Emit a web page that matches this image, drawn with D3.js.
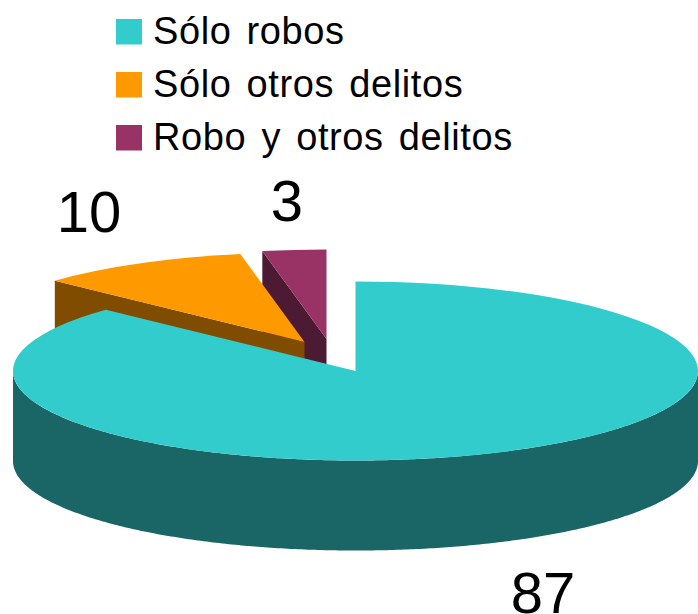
<!DOCTYPE html>
<html>
<head>
<meta charset="utf-8">
<script src="https://cdn.jsdelivr.net/npm/d3@7"></script>
<style>
  body { margin: 0; background: #fff; }
  svg { display: block; }
  text { font-family: "Liberation Sans", Arial, sans-serif; fill: #000; }
</style>
</head>
<body>
<div id="chart"></div>
<script>
// data
var categories = ["Sólo robos", "Sólo otros delitos", "Robo y otros delitos"];
var values = [87, 10, 3];

var topColors = ["#33cccc", "#ff9900", "#993366"];
var sideColors = ["#1a6666", "#804c00", "#4d1a33"];

var svgWidth = 698;
var svgHeight = 614;

var svg = d3.select("#chart")
  .append("svg")
  .attr("width", svgWidth)
  .attr("height", svgHeight);

// pie geometry (tilted ellipse + extrusion)
var cx = 355.5;
var cy = 371;
var rx = 342.5;
var ry = 89.5;
var depth = 90;

// how far each slice is pulled out of the centre, in pixels
var explode = [[0, 0], [-51, -29], [-29, -32]];
// where each value label sits
var labelPos = [[543, 613], [89, 232], [287, 221]];

var pieData = d3.pie().sort(null)(values);

var arc = d3.arc().innerRadius(0).outerRadius(rx);
var line = d3.line();

function onRim(angle, dx, dy, down) {
  return [cx + dx + rx * Math.sin(angle), cy + dy - ry * Math.cos(angle) + down];
}

// front wall of the outer rim, only between angles a0 and a1
function rimWall(a0, a1, dx, dy) {
  var steps = d3.range(a0, a1, 0.01).concat([a1]);
  var upper = steps.map(a => onRim(a, dx, dy, 0));
  var lower = steps.slice().reverse().map(a => onRim(a, dx, dy, depth));
  return line(upper.concat(lower)) + "Z";
}

// the flat cut face running from the apex out to the rim
function cutFace(angle, dx, dy) {
  var apex = [cx + dx, cy + dy];
  var rim = onRim(angle, dx, dy, 0);
  return line([
    apex, rim,
    [rim[0], rim[1] + depth],
    [apex[0], apex[1] + depth]
  ]) + "Z";
}

// back slices first so the big slice covers them
[2, 1, 0].forEach(function(i) {
  var d = pieData[i];
  var dx = explode[i][0];
  var dy = explode[i][1];
  var g = svg.append("g");

  if (i === 0) {
    g.append("path")
      .attr("d", rimWall(Math.PI / 2, Math.PI * 3 / 2, dx, dy))
      .attr("fill", sideColors[i]);
  } else {
    g.append("path")
      .attr("d", cutFace(d.startAngle, dx, dy))
      .attr("fill", sideColors[i]);
  }

  g.append("path")
    .attr("d", arc(d))
    .attr("transform", `translate(${cx + dx}, ${cy + dy}) scale(1, ${ry / rx})`)
    .attr("fill", topColors[i]);
});

// value labels
svg.selectAll(".value")
  .data(values)
  .enter()
  .append("text")
  .attr("class", "value")
  .attr("x", (d, i) => labelPos[i][0])
  .attr("y", (d, i) => labelPos[i][1])
  .attr("text-anchor", "middle")
  .style("font-size", "58px")
  .text(d => d);

// legend
var legendY = d3.scalePoint()
  .domain(categories)
  .range([44, 150]);

var legend = svg.selectAll(".legend")
  .data(categories)
  .enter()
  .append("g")
  .attr("class", "legend");

legend.append("rect")
  .attr("x", 116)
  .attr("y", d => legendY(d) - 25)
  .attr("width", 26)
  .attr("height", 25.5)
  .attr("fill", (d, i) => topColors[i]);

legend.append("text")
  .attr("x", 153)
  .attr("y", d => legendY(d))
  .style("font-size", "38px")
  .style("word-spacing", "4px")
  .style("letter-spacing", "0.6px")
  .text(d => d);
</script>
</body>
</html>
